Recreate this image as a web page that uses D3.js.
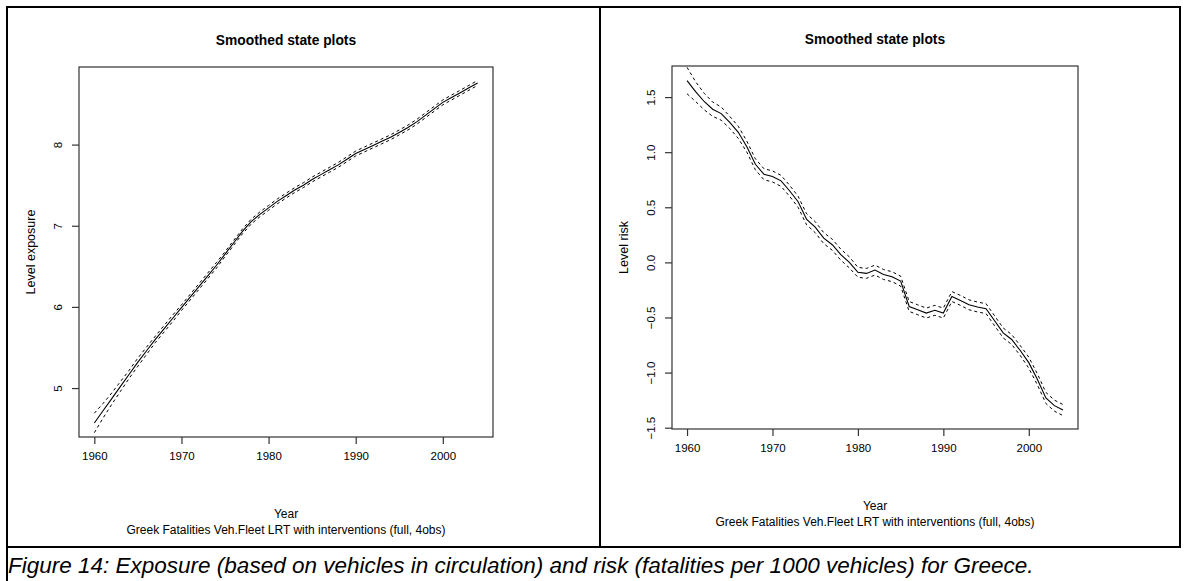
<!DOCTYPE html>
<html>
<head>
<meta charset="utf-8">
<script src="https://cdn.jsdelivr.net/npm/d3@7"></script>
<style>
  html, body { margin: 0; padding: 0; background: #fff; }
  svg { display: block; }
  text { font-family: "Liberation Sans", Arial, Helvetica, sans-serif; fill: #000; }
</style>
</head>
<body>
<svg id="fig" width="1187" height="581"></svg>
<script>
// Years of the smoothed state series
const years = d3.range(1960, 2005);

// Smoothed level of exposure (log vehicle fleet), 1960-2004
const exposureLevel = [
  4.57, 4.72, 4.87, 5.02, 5.17, 5.32, 5.46, 5.60, 5.73, 5.86,
  5.99, 6.12, 6.25, 6.38, 6.51, 6.65, 6.79, 6.93, 7.05, 7.14,
  7.22, 7.30, 7.37, 7.44, 7.50, 7.57, 7.63, 7.69, 7.75, 7.82,
  7.89, 7.94, 7.99, 8.04, 8.09, 8.15, 8.21, 8.28, 8.36, 8.44,
  8.52, 8.58, 8.64, 8.70, 8.76
];
// Half-width of the confidence band around the exposure level
const exposureBand = [
  0.12, 0.09, 0.07, 0.06, 0.05, 0.05, 0.045, 0.04, 0.04, 0.04,
  0.035, 0.035, 0.035, 0.035, 0.035, 0.03, 0.03, 0.03, 0.03, 0.03,
  0.03, 0.03, 0.03, 0.03, 0.03, 0.03, 0.03, 0.03, 0.03, 0.03,
  0.03, 0.03, 0.03, 0.03, 0.03, 0.03, 0.03, 0.03, 0.03, 0.03,
  0.03, 0.03, 0.03, 0.03, 0.03
];

// Smoothed level of risk (log fatalities per 1000 vehicles), 1960-2004
const riskLevel = [
  1.65, 1.55, 1.46, 1.39, 1.35, 1.27, 1.18, 1.05, 0.89, 0.80,
  0.78, 0.74, 0.65, 0.55, 0.39, 0.32, 0.22, 0.16, 0.07, 0.00,
  -0.09, -0.10, -0.07, -0.11, -0.13, -0.17, -0.40, -0.43, -0.46, -0.435,
  -0.46, -0.31, -0.345, -0.385, -0.405, -0.42, -0.53, -0.64, -0.70, -0.80,
  -0.91, -1.06, -1.23, -1.30, -1.34
];
// Half-width of the confidence band around the risk level
const riskBand = [
  0.12, 0.09, 0.075, 0.065, 0.06, 0.055, 0.055, 0.05, 0.05, 0.05,
  0.05, 0.05, 0.05, 0.05, 0.05, 0.05, 0.05, 0.05, 0.05, 0.05,
  0.045, 0.045, 0.045, 0.045, 0.045, 0.045, 0.045, 0.045, 0.045, 0.045,
  0.045, 0.045, 0.045, 0.045, 0.045, 0.045, 0.045, 0.045, 0.045, 0.045,
  0.05, 0.05, 0.05, 0.05, 0.05
];

// Tick values
const yearTicks = [1960, 1970, 1980, 1990, 2000];
const exposureTicks = [5, 6, 7, 8];
const riskTicks = [-1.5, -1.0, -0.5, 0.0, 0.5, 1.0, 1.5];

// Texts
const panelTitle = "Smoothed state plots";
const xTitle = "Year";
const subTitle = "Greek Fatalities Veh.Fleet LRT with interventions (full, 4obs)";
const caption = "Figure 14: Exposure (based on vehicles in circulation) and risk (fatalities per 1000 vehicles) for Greece.";

// Axis limits (data range plus the usual 4% margin)
const yearDomain = [1958.24, 2005.76];
const exposureDomain = [4.397, 8.956];
const riskDomain = [-1.512, 1.782];

const svg = d3.select("#fig");
svg.append("rect").attr("width", 1187).attr("height", 581).attr("fill", "#fff");

// Frame lines of the two-cell layout
const frame = svg.append("g").attr("stroke", "#000").attr("stroke-width", 2).attr("fill", "none");
frame.append("line").attr("x1", 6).attr("x2", 1181).attr("y1", 7).attr("y2", 7);
frame.append("line").attr("x1", 7).attr("x2", 7).attr("y1", 6).attr("y2", 581);
frame.append("line").attr("x1", 600).attr("x2", 600).attr("y1", 6).attr("y2", 548);
frame.append("line").attr("x1", 1180).attr("x2", 1180).attr("y1", 6).attr("y2", 548);
frame.append("line").attr("x1", 6).attr("x2", 1181).attr("y1", 547).attr("y2", 547);

svg.append("text")
  .attr("x", 8).attr("y", 573)
  .attr("font-size", 22.5).attr("font-style", "italic")
  .text(caption);

function drawPanel(cfg) {
  const { left, right, top, bottom, values, band, yDomain, yTicks, yFormat, yLabel } = cfg;
  const x = d3.scaleLinear().domain(yearDomain).range([left, right]);
  const y = d3.scaleLinear().domain(yDomain).range([bottom, top]);
  const g = svg.append("g");

  const rows = years.map((yr, i) => ({ yr, v: values[i], lo: values[i] - band[i], hi: values[i] + band[i] }));

  const line = key => d3.line().x(d => x(d.yr)).y(d => y(d[key]));

  g.append("path").datum(rows).attr("d", line("hi"))
    .attr("fill", "none").attr("stroke", "#000").attr("stroke-width", 1)
    .attr("stroke-dasharray", "3,3");
  g.append("path").datum(rows).attr("d", line("lo"))
    .attr("fill", "none").attr("stroke", "#000").attr("stroke-width", 1)
    .attr("stroke-dasharray", "3,3");
  g.append("path").datum(rows).attr("d", line("v"))
    .attr("fill", "none").attr("stroke", "#000").attr("stroke-width", 1.1);

  // Plot box
  g.append("rect")
    .attr("x", left).attr("y", top)
    .attr("width", right - left).attr("height", bottom - top)
    .attr("fill", "none").attr("stroke", "#333").attr("stroke-width", 1.2);

  // x axis
  const xAxis = d3.axisBottom(x).tickValues(yearTicks).tickSize(7).tickPadding(8).tickFormat(d3.format("d"));
  const xg = g.append("g").attr("transform", `translate(0,${bottom})`).call(xAxis);
  xg.select(".domain").remove();
  xg.selectAll("line").attr("stroke", "#333").attr("stroke-width", 1.2);
  xg.selectAll("text").attr("font-size", 11.5).attr("font-family", null);

  // y axis with rotated labels
  const yAxis = d3.axisLeft(y).tickValues(yTicks).tickSize(7).tickFormat(yFormat);
  const yg = g.append("g").attr("transform", `translate(${left},0)`).call(yAxis);
  yg.select(".domain").remove();
  yg.selectAll("line").attr("stroke", "#333").attr("stroke-width", 1.2);
  yg.selectAll("text")
    .attr("font-size", 11.5).attr("font-family", null)
    .attr("x", null).attr("dy", null)
    .attr("text-anchor", "middle")
    .attr("transform", "translate(-17,0) rotate(-90)");

  const cx = (left + right) / 2;
  g.append("text").attr("x", cx).attr("y", top - 22)
    .attr("text-anchor", "middle").attr("font-size", 13.8).attr("font-weight", "bold")
    .text(panelTitle);
  g.append("text").attr("x", cx).attr("y", bottom + 81)
    .attr("text-anchor", "middle").attr("font-size", 12).text(xTitle);
  g.append("text").attr("x", cx).attr("y", bottom + 97)
    .attr("text-anchor", "middle").attr("font-size", 12).text(subTitle);
  g.append("text")
    .attr("transform", `translate(${left - 44},${(top + bottom) / 2}) rotate(-90)`)
    .attr("text-anchor", "middle").attr("font-size", 12.5).text(yLabel);
}

drawPanel({
  left: 79, right: 493, top: 67, bottom: 437,
  values: exposureLevel, band: exposureBand,
  yDomain: exposureDomain, yTicks: exposureTicks,
  yFormat: d3.format("d"), yLabel: "Level exposure"
});

drawPanel({
  left: 672, right: 1078, top: 66, bottom: 429,
  values: riskLevel, band: riskBand,
  yDomain: riskDomain, yTicks: riskTicks,
  yFormat: d => d3.format(".1f")(d).replace("-", "\u2212"), yLabel: "Level risk"
});
</script>
</body>
</html>
